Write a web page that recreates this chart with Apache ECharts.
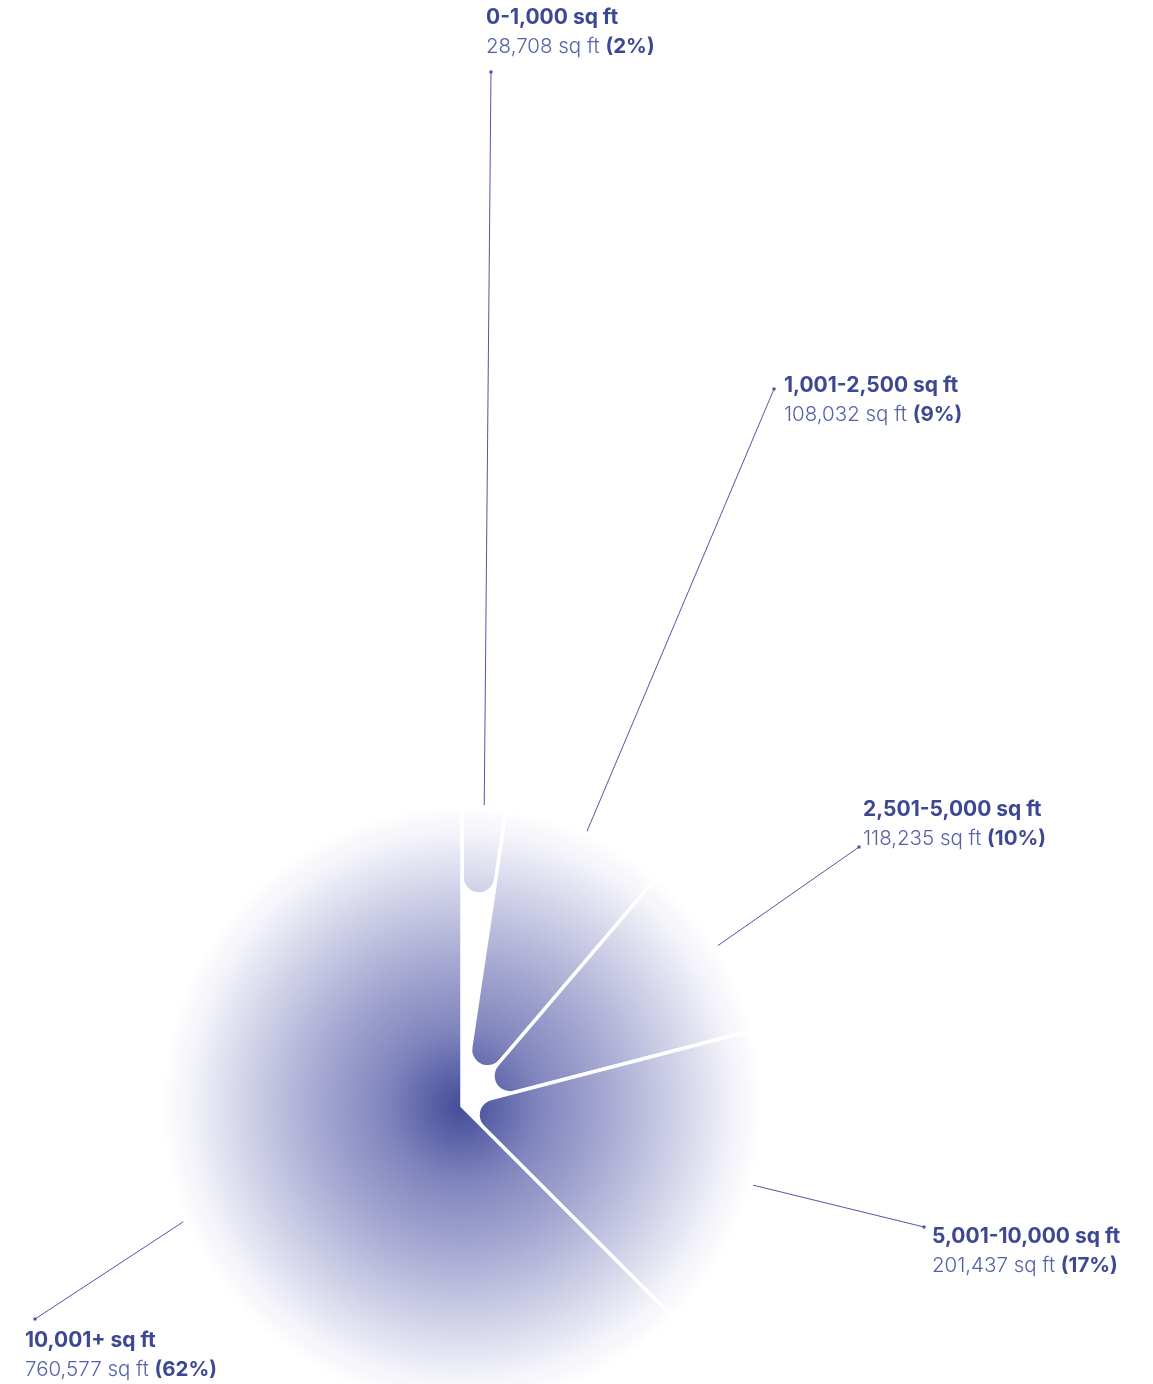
<!DOCTYPE html>
<html>
<head>
<meta charset="utf-8">
<title>Floor area by unit size</title>
<script src="https://cdn.jsdelivr.net/npm/echarts@6/dist/echarts.min.js"></script>
<style>
  html, body { margin: 0; padding: 0; background: #ffffff; }
  #chart { width: 1153px; height: 1384px; }
</style>
</head>
<body>
<div id="chart"></div>
<script>
// Floor area (sq ft) by size band
const categories = ['0-1,000 sq ft', '1,001-2,500 sq ft', '2,501-5,000 sq ft', '5,001-10,000 sq ft', '10,001+ sq ft'];
const areaValues = [28708, 108032, 118235, 201437, 760577];

// Layout
const CENTER = [462, 1106];
const RADIUS = 300;
const GAP = 3.5;        // white gap between slices
const TIP_ROUND = 17;   // radius of the rounded inner tip (incl. half the gap)
const OUTER_ROUND = 10;

// Where each callout line ends, and the top-left corner of its text block
const calloutEnds = [[491, 72], [774, 389], [859, 847], [924, 1227], [35, 1319]];
const calloutText = [[486, 3], [784, 371], [863, 795], [932, 1222], [25, 1326]];

const TITLE_COLOR = '#3d4892';
const VALUE_COLOR = '#5461a9';
const LINE_COLOR = '#4d59a7';
const FONT = 'Inter, "Noto Sans", sans-serif';

const total = areaValues.reduce((a, b) => a + b, 0);

// Radial fill shared by every slice, centred on the pie
const fill = {
  type: 'radial', x: CENTER[0], y: CENTER[1], r: RADIUS, global: true,
  colorStops: [
    { offset: 0, color: '#434d97' },
    { offset: 0.1, color: '#5a62a6' },
    { offset: 0.25, color: '#7f84bd' },
    { offset: 0.5, color: '#a9abd3' },
    { offset: 0.75, color: '#d6d7eb' },
    { offset: 0.9, color: '#f2f2f9' },
    { offset: 1, color: '#ffffff' }
  ]
};

// Inner radius at which a slice's rounded tip sits, so that the tip circle
// is tangent to both of the slice's straight edges.
function tipRadius(value) {
  const half = Math.PI * value / total;
  if (half >= Math.PI / 2) return 0;
  return TIP_ROUND * (1 / Math.sin(half) - 1);
}

const fmt = n => n.toLocaleString('en-US');

// One pie per slice: each shares the full data (so angles come from the
// pie layout) and shows only its own slice, with its own inner radius.
const series = areaValues.map((_, i) => ({
  type: 'pie',
  center: CENTER,
  radius: [tipRadius(areaValues[i]), RADIUS],
  startAngle: 90,
  clockwise: true,
  percentPrecision: 0,
  avoidLabelOverlap: false,
  silent: true,
  emphasis: { disabled: true },
  z: 2,
  data: areaValues.map((v, j) => ({
    name: categories[j],
    value: v,
    itemStyle: j === i
      ? { color: fill, borderColor: '#ffffff', borderWidth: GAP, borderJoin: 'round', borderRadius: [100, OUTER_ROUND] }
      : { color: 'rgba(0,0,0,0)', borderWidth: 0 },
    label: { show: j === i },
    labelLine: { show: j === i }
  })),
  label: {
    position: 'outside',
    formatter: p => '{t|' + p.name + '}\n{v|' + fmt(p.value) + ' sq ft }{p|(' + p.percent + '%)}',
    rich: {
      t: { fontFamily: FONT, fontSize: 21, fontWeight: 700, color: TITLE_COLOR, lineHeight: 29 },
      v: { fontFamily: FONT, fontSize: 20.5, fontWeight: 300, color: VALUE_COLOR, lineHeight: 29 },
      p: { fontFamily: FONT, fontSize: 20.5, fontWeight: 700, color: TITLE_COLOR, lineHeight: 29 }
    }
  },
  labelLine: {
    length: 20, length2: 0,
    lineStyle: { color: LINE_COLOR, width: 1 }
  },
  labelLayout: params => {
    const k = params.dataIndex;
    const start = params.labelLinePoints ? params.labelLinePoints[0] : calloutEnds[k];
    return {
      x: calloutText[k][0],
      y: calloutText[k][1],
      align: 'left',
      verticalAlign: 'top',
      labelLinePoints: [start, calloutEnds[k], calloutEnds[k]]
    };
  }
}));

const chart = echarts.init(document.getElementById('chart'), null, { renderer: 'canvas' });
chart.setOption({
  animation: false,
  backgroundColor: '#ffffff',
  series: series,
  graphic: calloutEnds.map(p => ({
    type: 'circle',
    z: 10,
    shape: { cx: p[0], cy: p[1], r: 1.8 },
    style: { fill: LINE_COLOR }
  }))
});
</script>
</body>
</html>
